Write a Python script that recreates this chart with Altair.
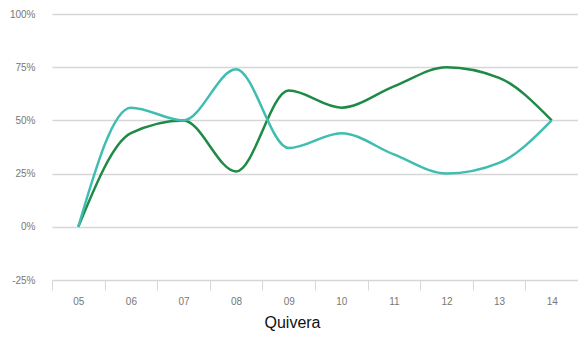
import altair as alt
import pandas as pd

years = ["05", "06", "07", "08", "09", "10", "11", "12", "13", "14"]
green = [0, 44, 50, 26, 64, 56, 66, 75, 70, 50]
teal = [0, 56, 50, 74, 37, 44, 34, 25, 30, 50]
series_names = ["green", "teal"]
colors = ["#1f8a45", "#40bdb1"]
y_ticks = [-25, 0, 25, 50, 75, 100]

rows = []
for i, yv in enumerate(years):
    rows.append({"year": yv, "series": "green", "value": green[i], "order": 0})
    rows.append({"year": yv, "series": "teal", "value": teal[i], "order": 1})
df = pd.DataFrame(rows)

chart = alt.Chart(df).mark_line(interpolate="monotone", strokeWidth=2.5).encode(
    x=alt.X("year:O", sort=years,
            scale=alt.Scale(paddingInner=0, paddingOuter=0),
            axis=alt.Axis(title="Quivera", labelAngle=0, labelFont="Liberation Sans",
                          labelFontSize=10, labelColor="#777777", labelPadding=6,
                          tickBand="extent", tickSize=10, tickColor="#d4d8de",
                          domain=False, grid=False,
                          titleFont="Liberation Sans", titleFontSize=16,
                          titleFontWeight="normal", titleColor="#111111",
                          titleX=240, titleY=42, titleAlign="center",
                          titleBaseline="middle")),
    y=alt.Y("value:Q", scale=alt.Scale(domain=[-25, 100], nice=False, zero=False),
            axis=alt.Axis(title=None, values=y_ticks, format=".0f",
                          labelExpr="datum.value + '%'",
                          labelFont="Liberation Sans", labelFontSize=10,
                          labelColor="#777777", labelPadding=17,
                          ticks=False, domain=False, grid=True,
                          gridColor="#d6d6d6", gridWidth=1.5)),
    color=alt.Color("series:N", scale=alt.Scale(domain=series_names, range=colors),
                    legend=None),
    order=alt.Order("order:Q"),
).properties(
    width=526, height=266,
    autosize=alt.AutoSizeParams(type="none"),
    padding={"left": 44, "top": 6, "right": 0, "bottom": 56},
).configure_view(stroke=None)

chart.save("out.html", embed_options={"renderer": "svg", "actions": False})
